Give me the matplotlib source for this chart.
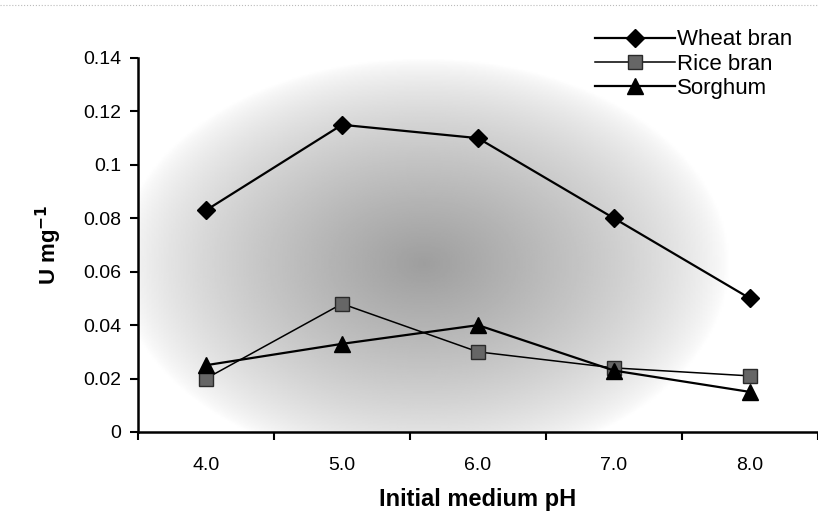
import numpy as np
import matplotlib.pyplot as plt

# Data
ph_labels = ['4.0', '5.0', '6.0', '7.0', '8.0']
wheat = [0.083, 0.115, 0.110, 0.080, 0.050]
rice = [0.020, 0.048, 0.030, 0.024, 0.021]
sorghum = [0.025, 0.033, 0.040, 0.023, 0.015]

plt.rcParams['font.family'] = ['Liberation Sans', 'DejaVu Sans']

fig = plt.figure(figsize=(8.18, 5.29), dpi=100)
ax = fig.add_axes([138/818, 1-432/529, 680/818, 374/529])

x = np.arange(len(ph_labels))

# Radial grey shading behind the plot
gx, gy = np.meshgrid(np.linspace(0, 1, 400), np.linspace(0, 1, 300))
r = np.sqrt(((gx - 0.42) / 0.45) ** 2 + ((gy - 0.45) / 0.55) ** 2)
shade = 1 - 0.38 * np.clip(1 - r, 0, 1) ** 0.7
ax.imshow(shade, extent=[0, 1, 0, 1], transform=ax.transAxes, cmap='gray',
          vmin=0, vmax=1, aspect='auto', zorder=0, origin='lower')

ax.plot(x, wheat, color='black', marker='D', markersize=9, linewidth=1.6,
        label='Wheat bran', zorder=3)
ax.plot(x, rice, color='black', marker='s', markersize=10, linewidth=1.1,
        markerfacecolor='#666666', markeredgecolor='#2a2a2a',
        label='Rice bran', zorder=3)
ax.plot(x, sorghum, color='black', marker='^', markersize=11, linewidth=1.6,
        label='Sorghum', zorder=3)

# Formatting
ax.set_xlim(-0.5, len(ph_labels) - 0.5)
ax.set_ylim(0, 0.14)
ax.set_yticks(np.arange(0, 0.141, 0.02))
ax.set_yticklabels(['0', '0.02', '0.04', '0.06', '0.08', '0.1', '0.12', '0.14'])
ax.set_xticks(x)
ax.set_xticklabels(ph_labels)
ax.set_xticks(np.arange(-0.5, len(ph_labels), 1), minor=True)
ax.tick_params(axis='x', which='major', length=0, pad=18, labelsize=14)
ax.tick_params(axis='x', which='minor', length=6, width=1.5, direction='out')
ax.tick_params(axis='y', length=6, width=1.5, direction='out', labelsize=14,
               pad=6)

for s in ['top', 'right']:
    ax.spines[s].set_visible(False)
for s in ['left', 'bottom']:
    ax.spines[s].set_linewidth(1.8)

ax.set_xlabel('Initial medium pH', fontsize=17, fontweight='bold', labelpad=10)
ax.set_ylabel('U mg$^{\\mathbf{-1}}$', fontsize=16, fontweight='bold',
              labelpad=14)

ax.legend(loc='upper right', bbox_to_anchor=(0.975, 1.1), frameon=False,
          fontsize=16, handlelength=3.6, handletextpad=0.1, labelspacing=0.15,
          borderaxespad=0)

# faint scan border at top
fig.add_artist(plt.Line2D([0, 1], [0.99, 0.99], color='#bbbbbb',
                          linewidth=0.8, linestyle=':'))

fig.savefig('out.png', dpi=100)
